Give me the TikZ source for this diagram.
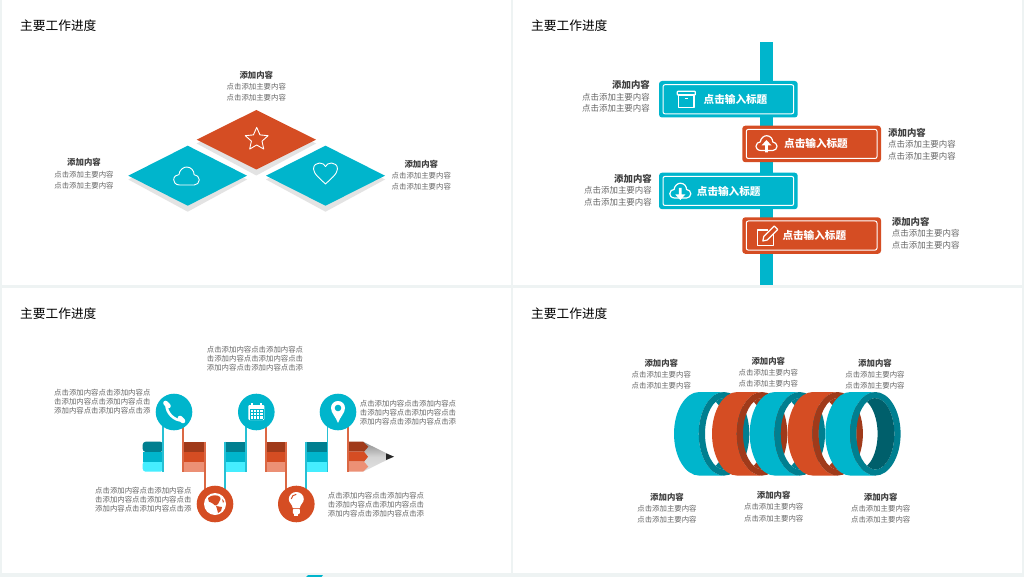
\documentclass[tikz,border=0pt]{standalone}
\usepackage{fontspec}
\setmainfont{Noto Sans CJK SC}
\usetikzlibrary{shapes.geometric}
\definecolor{bgc}{HTML}{EEF3F3}
\definecolor{teal}{HTML}{00B5CC}
\definecolor{tealD}{HTML}{007F90}
\definecolor{tealX}{HTML}{005F6B}
\definecolor{tealL}{HTML}{45EEFF}
\definecolor{org}{HTML}{D54D23}
\definecolor{orgD}{HTML}{A03A1A}
\definecolor{orgX}{HTML}{7E2C14}
\definecolor{orgL}{HTML}{EC9075}
\definecolor{shad}{HTML}{E3E3E3}
\definecolor{ttlc}{HTML}{404040}
\definecolor{bodyc}{HTML}{666666}
\newcommand{\hd}{\bfseries\fontsize{8.4}{11.2}\selectfont\color{ttlc}}
\newcommand{\hdb}{\bfseries\fontsize{9.4}{11.5}\selectfont\color{ttlc}}
\newcommand{\ltxt}{{\hd 添加内容}\\点击添加主要内容\\点击添加主要内容}
\newcommand{\ltxb}{{\hdb 添加内容}\\点击添加主要内容\\点击添加主要内容}
\newcommand{\cloudpath}{(-7,9) .. controls (-12,9) and (-13.5,5.5) .. (-13.5,3.5) .. controls (-13.5,0) and (-10.5,-2) .. (-8,-2) .. controls (-7.5,-7) and (-3,-10) .. (0,-10) .. controls (5,-10) and (8,-6) .. (8,-2) .. controls (11,-2) and (13.5,1) .. (13.5,3.5) .. controls (13.5,6.5) and (11,9) .. (8,9) -- cycle}
\newcommand{\ringdraw}[4]{%
 \pgfmathsetmacro{\cL}{#1+25.3}\pgfmathsetmacro{\cR}{#1+50}\pgfmathsetmacro{\tx}{\cR-8.35}
 \fill[#2] (\cL,392) arc[start angle=270,end angle=90,x radius=25.3,y radius=41.8] -- (\cR,475.6) arc[start angle=90,end angle=270,x radius=25.3,y radius=41.8] -- cycle;
 \fill[#3,even odd rule] (\cR,433.8) ellipse[x radius=25.3,y radius=41.8] (\cR,433.8) ellipse[x radius=19,y radius=35.7];
 \fill[#4] (\tx,401.73) arc[start angle=-116.07,end angle=116.07,x radius=19,y radius=35.7] arc[start angle=63.93,end angle=-63.93,x radius=19,y radius=35.7] -- cycle;
}
\tikzset{
 panel/.style={fill=white,draw=none},
 title/.style={font=\fontsize{12.7}{15}\selectfont,text=black,anchor=west,inner sep=0},
 blk/.style={font=\fontsize{7.4}{11.2}\selectfont,text=bodyc,align=center,inner sep=0},
 blkl/.style={font=\fontsize{8.45}{11.5}\selectfont,text=bodyc,inner sep=0,align=left,anchor=west},
 blkr/.style={font=\fontsize{8.45}{11.5}\selectfont,text=bodyc,inner sep=0,align=right,anchor=east},
 para/.style={font=\fontsize{7.4}{9}\selectfont,text=bodyc,align=left,anchor=north west,inner sep=0},
 ic/.style={draw=white,line width=0.9,line join=round,fill=none},
 icb/.style={draw=white,line width=1.2,line join=round,fill=none},
 boxT/.style={fill=teal,rounded corners=3},
 boxO/.style={fill=org,rounded corners=3},
 boxin/.style={draw=white,line width=1,rounded corners=2},
 boxt/.style={font=\bfseries\fontsize{10.6}{12}\selectfont,text=white,inner sep=0},
 linkT/.style={draw=teal!85!white,line width=1.6},
 linkO/.style={draw=org!85!white,line width=1.6},
 discT/.style={circle,fill=teal,minimum size=36.6,inner sep=0},
 discO/.style={circle,fill=org,minimum size=36.6,inner sep=0},
}
\begin{document}
\begin{tikzpicture}[x=1pt,y=-1pt]
\useasboundingbox (0,0) rectangle (1024,577);
\fill[bgc] (0,0) rectangle (1024,577);
\fill[panel] (2,0) rectangle (511,285);
\fill[panel] (513,0) rectangle (1022,285);
\fill[panel] (2,288) rectangle (511,573);
\fill[panel] (513,288) rectangle (1022,573);
\fill[teal] (306,577) -- (308,575) -- (323,575) -- (321.5,577) -- cycle;
\node[title] (h1) at (20,26) {主要工作进度};
\node[title] (h2) at (531,26) {主要工作进度};
\node[title] (h3) at (20,313.5) {主要工作进度};
\node[title] (h4) at (531,313.5) {主要工作进度};
%% panel 1
\fill[shad] (128.3,179.5) -- (187.7,149.5) -- (247,179.5) -- (187.7,211.7) -- cycle;
\fill[shad] (266,179.5) -- (325.5,149.5) -- (385,179.5) -- (325.5,211.7) -- cycle;
\fill[shad] (196.7,143.5) -- (256.3,113.5) -- (316,143.5) -- (256.3,175.5) -- cycle;
\fill[org] (196.7,139.7) -- (256.3,110) -- (316,139.7) -- (256.3,169.5) -- cycle;
\fill[teal] (128.3,175.7) -- (187.7,145.7) -- (247,175.7) -- (187.7,205.7) -- cycle;
\fill[teal] (266,175.7) -- (325.5,145.7) -- (385,175.7) -- (325.5,205.7) -- cycle;
\node[star,star points=5,star point ratio=2.15,draw=white,line width=0.9,line join=round,minimum size=24,inner sep=0] (star1) at (256.7,139.4) {};
\draw[ic,shift={(186.5,176.5)},scale=0.95] \cloudpath;
\draw[ic,shift={(325.5,173)}] (0,11) .. controls (-4,7) and (-12,1) .. (-12,-4) .. controls (-12,-8) and (-9,-10) .. (-6,-10) .. controls (-3,-10) and (-1,-8.5) .. (0,-6.5) .. controls (1,-8.5) and (3,-10) .. (6,-10) .. controls (9,-10) and (12,-8) .. (12,-4) .. controls (12,1) and (4,7) .. (0,11) -- cycle;
\node[blk] (a1) at (256.3,86.3) {\ltxt};
\node[blk] (a2) at (84,173.7) {\ltxt};
\node[blk] (a3) at (421.3,175.4) {\ltxt};
%% panel 2
\fill[teal] (760,42) rectangle (772.7,285);
\foreach \sty/\xa/\ya in {boxT/659/81,boxO/742.3/125.7,boxT/659/172.7,boxO/742.3/217.3}{
  \path[\sty] (\xa,\ya) rectangle ++(138.7,36.5);
  \draw[boxin] (\xa+4,\ya+3.7) rectangle ++(130.7,29.1);
}
\node[boxt] (bt1) at (735.5,99.7) {点击输入标题};
\node[boxt] (bt2) at (816,143.7) {点击输入标题};
\node[boxt] (bt3) at (728.7,191.7) {点击输入标题};
\node[boxt] (bt4) at (814.3,235.7) {点击输入标题};
\begin{scope}[shift={(686.3,99.3)}]
 \draw[icb,rounded corners=0.6] (-9,-8) rectangle (9,-4.3);
 \draw[icb] (-7.6,-4.3) rectangle (7.6,8);
 \draw[icb] (-1.5,-1) -- (1.5,-1);
\end{scope}
\begin{scope}[shift={(766.5,143.5)}]
 \draw[icb,scale=0.78] \cloudpath;
 \fill[white] (0,-3.5) -- (5,2) -- (1.4,2) -- (1.4,9) -- (-1.4,9) -- (-1.4,2) -- (-5,2) -- cycle;
\end{scope}
\begin{scope}[shift={(680.3,191)}]
 \draw[icb,scale=0.78] \cloudpath;
 \fill[white] (0,9) -- (5,3.5) -- (1.4,3.5) -- (1.4,-3) -- (-1.4,-3) -- (-1.4,3.5) -- (-5,3.5) -- cycle;
\end{scope}
\begin{scope}[shift={(765.3,236)}]
 \draw[icb] (8,-3) -- (8,9.7) -- (-8,9.7) -- (-8,-6) -- (3,-6);
 \draw[icb] (-2.5,5) -- (-1.5,0.5) -- (9,-10) -- (12.5,-6.5) -- (2,4) -- cycle;
\end{scope}
\node[blkr] (c1) at (650,96.4) {\ltxb};
\node[blkl] (c2) at (888,144.2) {\ltxb};
\node[blkr] (c3) at (652,190) {\ltxb};
\node[blkl] (c4) at (891.7,233.2) {\ltxb};
%% panel 3 : pencil
\fill[tealD,rounded corners=3] (142.7,452) -- (142.7,441.7) -- (163.3,441.7) -- (163.3,452) -- cycle;
\fill[tealL,rounded corners=3] (142.7,461) -- (142.7,471.7) -- (163.3,471.7) -- (163.3,461) -- cycle;
\fill[teal] (142.7,451.7) rectangle (163.3,461.7);
\foreach \xa/\xb in {224.3/246.3,305.7/327.7}{
 \fill[tealD] (\xa,441.7) rectangle (\xb,451.7);
 \fill[teal] (\xa,451.7) rectangle (\xb,461.7);
 \fill[tealL] (\xa,461.7) rectangle (\xb,471.7);
}
\foreach \xa/\xb in {182.7/205.3,265.7/286.7}{
 \fill[orgD] (\xa,441.7) rectangle (\xb,451.7);
 \fill[org] (\xa,451.7) rectangle (\xb,461.7);
 \fill[orgL] (\xa,461.7) rectangle (\xb,471.7);
}
\begin{scope}
 \clip (363,441.7) -- (393.5,456.7) -- (363,471.7) -- cycle;
 \shade[top color=black!45,bottom color=black!12,middle color=black!17] (360,441.7) rectangle (395,471.7);
\end{scope}
\fill[orgD] (347.7,441.7) -- (363,441.7) -- (368.3,446.7) -- (364,451.7) -- (347.7,451.7) -- cycle;
\fill[org] (347.7,451.7) -- (364,451.7) -- (368,456.7) -- (364,461.7) -- (347.7,461.7) -- cycle;
\fill[orgL] (347.7,461.7) -- (364,461.7) -- (368.3,466.7) -- (363,471.7) -- (347.7,471.7) -- cycle;
\fill[black!85] (386,453.3) -- (394,456.7) -- (386,460) -- cycle;
% connector end points on the pencil
\coordinate (p1) at (162.7,471.7);
\coordinate (p2) at (183,471.7);
\coordinate (p3) at (204.7,441.7);
\coordinate (p4) at (224.7,441.7);
\coordinate (p5) at (246,471.7);
\coordinate (p6) at (266,471.7);
\coordinate (p7) at (286,441.7);
\coordinate (p8) at (305.7,441.7);
\coordinate (p9) at (327.3,471.7);
\coordinate (p10) at (348,471.7);
\coordinate (d1c) at (174,412);
\coordinate (d2c) at (256.3,412);
\coordinate (d3c) at (338,412);
\coordinate (d4c) at (215,504);
\coordinate (d5c) at (296.3,504);
\draw[linkT] (d1c -| p1) -- (p1);
\draw[linkO] (d1c -| p2) -- (p2);
\draw[linkO] (p3) -- (d4c -| p3);
\draw[linkT] (p4) -- (d4c -| p4);
\draw[linkT] (d2c -| p5) -- (p5);
\draw[linkO] (d2c -| p6) -- (p6);
\draw[linkO] (p7) -- (d5c -| p7);
\draw[linkT] (p8) -- (d5c -| p8);
\draw[linkT] (d3c -| p9) -- (p9);
\draw[linkO] (d3c -| p10) -- (p10);
\node[discT] (d1) at (d1c) {};
\node[discT] (d2) at (d2c) {};
\node[discT] (d3) at (d3c) {};
\node[discO] (d4) at (d4c) {};
\node[discO] (d5) at (d5c) {};
% phone
\begin{scope}[shift={(174,412)}]
 \draw[white,line width=2.6] (-7.5,-7) .. controls (-7.5,1) and (0,8.5) .. (8,8.5);
 \draw[white,line width=4.6,line cap=round] (-8.5,-9) -- (-5.5,-6);
 \draw[white,line width=4.6,line cap=round] (6,6) -- (9,9);
\end{scope}
% calendar
\begin{scope}[shift={(256.3,412)}]
 \fill[white,rounded corners=1] (-8,-7) rectangle (8,8);
 \fill[white] (-5.5,-9) rectangle (-3.5,-6);
 \fill[white] (3.5,-9) rectangle (5.5,-6);
 \draw[teal,line width=0.6] (-6.5,-3) -- (6.5,-3) (-6.5,0.3) -- (6.5,0.3) (-6.5,3.6) -- (6.5,3.6) (-6.5,6.8) -- (6.5,6.8);
 \draw[teal,line width=0.6] (-6.5,-3) -- (-6.5,6.8) (-3.25,-3) -- (-3.25,6.8) (0,-3) -- (0,6.8) (3.25,-3) -- (3.25,6.8) (6.5,-3) -- (6.5,6.8);
\end{scope}
% pin
\begin{scope}[shift={(338,412)}]
 \fill[white] (0,11) .. controls (-2,5) and (-7,1) .. (-7,-4) .. controls (-7,-8) and (-4,-11) .. (0,-11) .. controls (4,-11) and (7,-8) .. (7,-4) .. controls (7,1) and (2,5) .. (0,11) -- cycle;
 \fill[teal] (0,-4) circle[radius=3.3];
\end{scope}
% globe
\begin{scope}[shift={(215,504)}]
 \fill[white] (0,0) circle[radius=11];
 \fill[org] (-7,-6) .. controls (-3,-10) and (3,-9) .. (5,-7) .. controls (7,-4) and (3,-3) .. (3,0) .. controls (1,3) and (-1,1) .. (-3,-1) .. controls (-6,-1) and (-7,-3) .. (-7,-6) -- cycle;
 \fill[org] (1,2) -- (7,3) -- (6,7) -- (3,9) -- (2,5) -- cycle;
 \fill[org] (7,-5) -- (9,-3) -- (8,-1) -- cycle;
\end{scope}
% bulb
\begin{scope}[shift={(296.3,504)}]
 \fill[white] (-3.5,4) .. controls (-4,0) and (-7.5,-1) .. (-7.5,-5) .. controls (-7.5,-9) and (-4,-12) .. (0,-12) .. controls (4,-12) and (7.5,-9) .. (7.5,-5) .. controls (7.5,-1) and (4,0) .. (3.5,4) -- cycle;
 \fill[white,rounded corners=1] (-3.5,4.8) rectangle (3.5,10);
 \fill[white] (-2,10) rectangle (2,12);
 \draw[org,line width=1] (-5,-5) .. controls (-5,-7.5) and (-2.5,-9.7) .. (0,-9.7);
\end{scope}
\node[para] (e1) at (206.7,345.6) {点击添加内容点击添加内容点\\击添加内容点击添加内容点击\\添加内容点击添加内容点击添};
\node[para] (e2) at (54,389) {点击添加内容点击添加内容点\\击添加内容点击添加内容点击\\添加内容点击添加内容点击添};
\node[para] (e3) at (359.7,400.3) {点击添加内容点击添加内容点\\击添加内容点击添加内容点击\\添加内容点击添加内容点击添};
\node[para] (e4) at (95,487) {点击添加内容点击添加内容点\\击添加内容点击添加内容点击\\添加内容点击添加内容点击添};
\node[para] (e5) at (327.7,492) {点击添加内容点击添加内容点\\击添加内容点击添加内容点击\\添加内容点击添加内容点击添};
%% panel 4 : rings
\ringdraw{674}{teal}{tealD}{tealD}
\ringdraw{712}{org}{orgD}{orgD}
\ringdraw{749.7}{teal}{tealD}{tealD}
\ringdraw{787.6}{org}{orgD}{orgD}
\ringdraw{825.3}{teal}{tealD}{tealX}
\node[blk] (f1) at (661.3,374) {\ltxt};
\node[blk] (f2) at (768.3,372) {\ltxt};
\node[blk] (f3) at (875,374) {\ltxt};
\node[blk] (f4) at (667,508.2) {\ltxt};
\node[blk] (f5) at (773.7,506.5) {\ltxt};
\node[blk] (f6) at (880.7,508.2) {\ltxt};
\end{tikzpicture}
\end{document}
